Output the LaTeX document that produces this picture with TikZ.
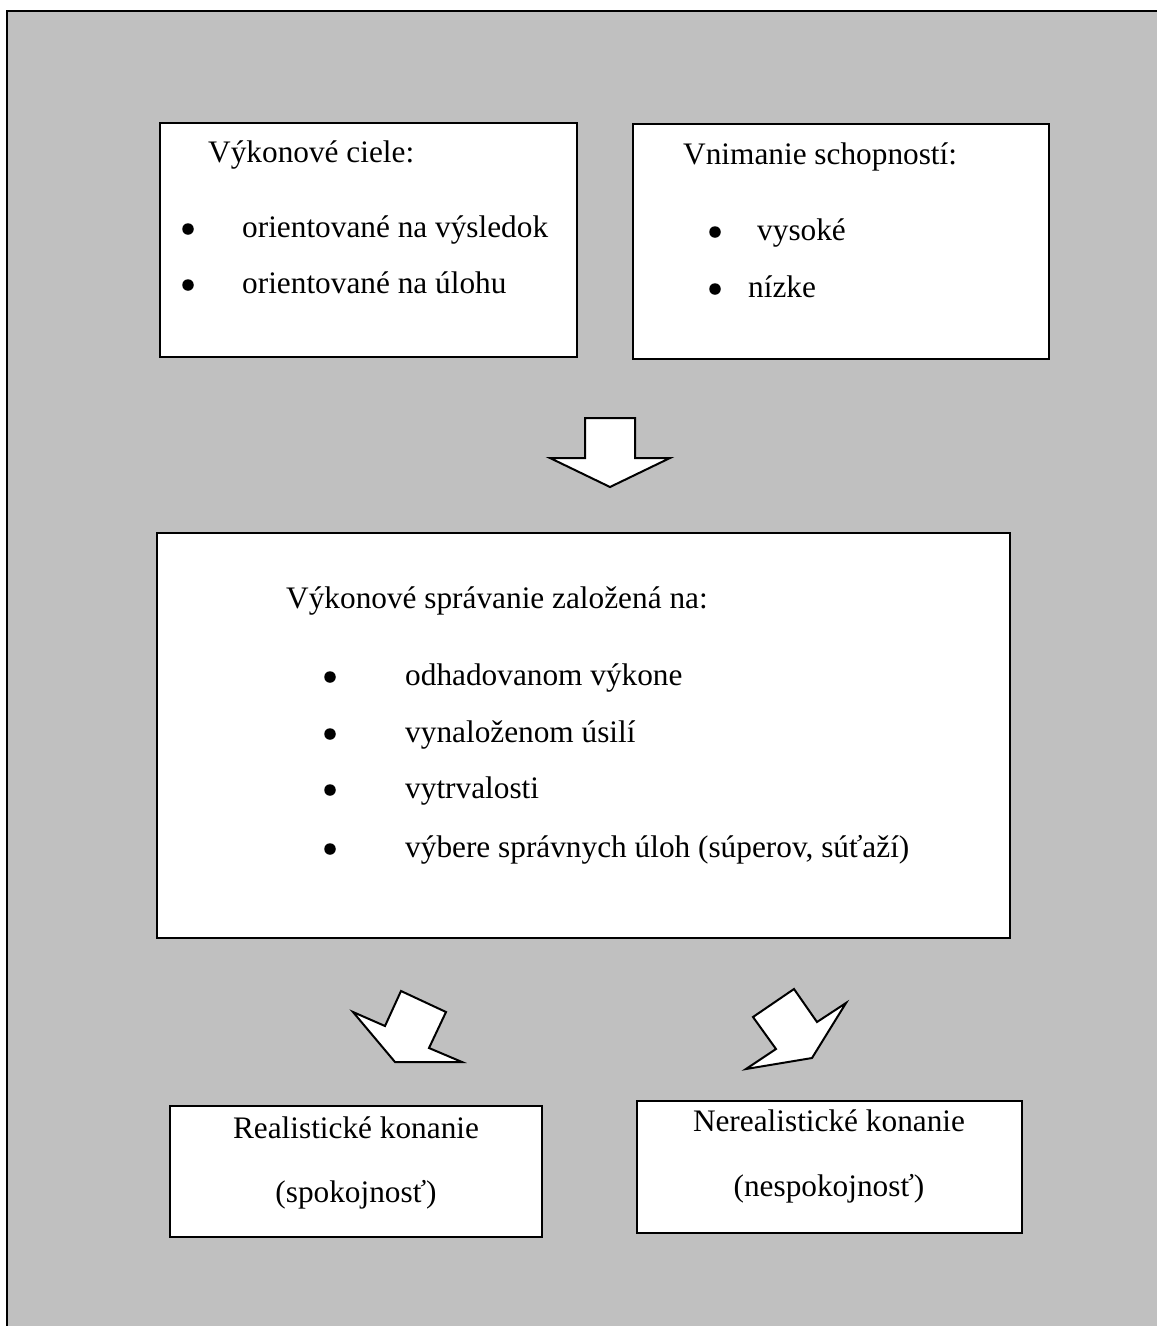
\documentclass[tikz,border=0pt]{standalone}
\usepackage{fontspec}
\setmainfont{Liberation Serif}
\definecolor{panelgray}{HTML}{C0C0C0}
\tikzset{
  box/.style={draw=black, line width=2pt, fill=white},
  txt/.style={inner sep=0pt, anchor=base west, font=\fontsize{31.3}{37}\selectfont},
  ctxt/.style={inner sep=0pt, anchor=base, font=\fontsize{31.3}{37}\selectfont},
  bigarrow/.style={draw=black, line width=2pt, fill=white, line join=miter},
  dot/.style={circle, fill=black, inner sep=0pt, minimum size=11.5pt}
}
\begin{document}
\begin{tikzpicture}[x=1pt,y=-1pt]
\useasboundingbox (0,0) rectangle (1157,1326);
\fill[white] (0,0) rectangle (1157,1326);
% grey panel with a frame on its left and top edges
\fill[panelgray] (7,11) rectangle (1157,1326);
\draw[line width=2.5pt] (7,1326) -- (7,11) -- (1157,11);

% boxes
\draw[box] (160,123) rectangle (577,357);
\draw[box] (633,124) rectangle (1049,359);
\draw[box] (157,533) rectangle (1010,938);
\draw[box] (170,1106) rectangle (542,1237);
\draw[box] (637,1101) rectangle (1022,1233);

% achievement goals
\node[txt] (goalsT) at (208,162) {Výkonové ciele:};
\node[dot] (g1) at (188,229) {};
\node[txt] (g1t) at (242,237) {orientované na výsledok};
\node[dot] (g2) at (188,285) {};
\node[txt] (g2t) at (242,293) {orientované na úlohu};

% perceived ability
\node[txt] (abilT) at (683,164) {Vnimanie schopností:};
\node[dot] (a1) at (715,232) {};
\node[txt] (a1t) at (757,240) {vysoké};
\node[dot] (a2) at (715,289) {};
\node[txt] (a2t) at (748,297) {nízke};

% achievement behaviour
\node[txt] (behT) at (286,608) {Výkonové správanie založená na:};
\node[dot] (m1) at (330,677) {};
\node[txt] (m1t) at (405,685) {odhadovanom výkone};
\node[dot] (m2) at (330,734) {};
\node[txt] (m2t) at (405,742) {vynaloženom úsilí};
\node[dot] (m3) at (330,790) {};
\node[txt] (m3t) at (405,798) {vytrvalosti};
\node[dot] (m4) at (330,849) {};
\node[txt] (m4t) at (405,857) {výbere správnych úloh (súperov, súťaží)};

% outcomes
\node[ctxt] (realA) at (356,1138) {Realistické konanie};
\node[ctxt] (realB) at (356,1202) {(spokojnosť)};
\node[ctxt] (unrealA) at (829,1131) {Nerealistické konanie};
\node[ctxt] (unrealB) at (829,1196) {(nespokojnosť)};

% block arrows
\draw[bigarrow] (585,418) -- (635,418) -- (635,458) -- (670,458) -- (610,487)
  -- (550,458) -- (585,458) -- cycle;
\draw[bigarrow] (401,991) -- (446,1012) -- (429,1048) -- (462,1062) -- (395,1062)
  -- (353,1012) -- (385,1026) -- cycle;
\draw[bigarrow] (794,989) -- (817,1022) -- (846,1003) -- (812,1058) -- (746,1069)
  -- (776,1049) -- (753,1017) -- cycle;
\end{tikzpicture}
\end{document}
